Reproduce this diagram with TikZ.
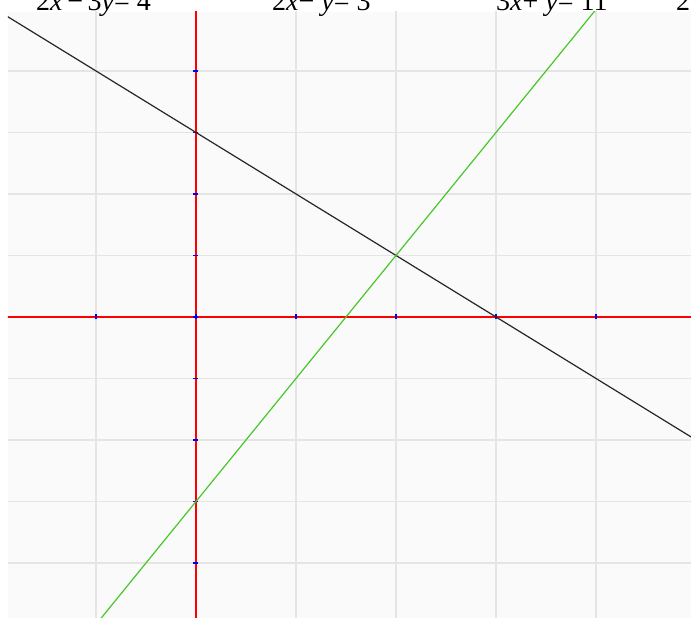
\documentclass[tikz,border=0pt]{standalone}
\usepackage{fontspec}
\setmainfont{Liberation Serif}
\usepackage{tikz}
\usetikzlibrary{positioning}

\newcommand{\vx}{\textit{x}}
\newcommand{\vy}{\textit{y}}

\begin{document}
\begin{tikzpicture}[
  x=100pt, y=61.5pt,
  gridline/.style={draw=black!10,line width=1.5pt},
  axisline/.style={draw=red,line width=1.8pt},
  tickmark/.style={draw=blue,line width=1.8pt},
  eqlabel/.style={anchor=base west,inner sep=0pt,font=\fontsize{28}{32}\selectfont}
]
  \useasboundingbox (-1.96,5.154) rectangle (4.95,-4.894);
  \fill[white] (-1.96,5.154) rectangle (4.95,-4.894);

  % plot area
  \begin{scope}
    \clip (-1.88,4.96) rectangle (4.95,-4.894);
    \fill[black!2] (-1.88,4.96) rectangle (4.95,-4.894);
    \foreach \gx in {-1,1,2,3,4}
      \draw[gridline] (\gx,5) -- (\gx,-5);
    \foreach \gy in {-4,-3,-2,-1,1,2,3,4}
      \draw[gridline] (-2,\gy) -- (5,\gy);

    % axes
    \draw[axisline] (-2,0) -- (5,0);
    \draw[axisline] (0,5.2) -- (0,-5);
    \foreach \gx in {-1,0,1,2,3,4}
      \draw[tickmark] (\gx,-2.5pt) -- (\gx,2.5pt);
    \foreach \gy in {-4,-3,-2,-1,0,1,2,3,4}
      \draw[tickmark] (-2.5pt,\gy) -- (2.5pt,\gy);

    % the two lines
    \draw[black!85,line width=1.2pt] (-2,5) -- (5,-2);
    \draw[color={rgb,255:red,70;green,200;blue,40},line width=1.2pt] (-1,-5) -- (4.1,5.2);
  \end{scope}

  % equations, cut at the top edge
  \node[eqlabel] (eqa) at (-1.60,4.976) {2\vx\,−\,3\vy = 4};
  \node[eqlabel] (eqb) at (0.76,4.976) {2\vx − \vy = 3};
  \node[eqlabel] (eqc) at (3.00,4.976) {3\vx + \vy = 11};
  \node[eqlabel] (eqd) at (4.80,4.976) {2};
\end{tikzpicture}
\end{document}
